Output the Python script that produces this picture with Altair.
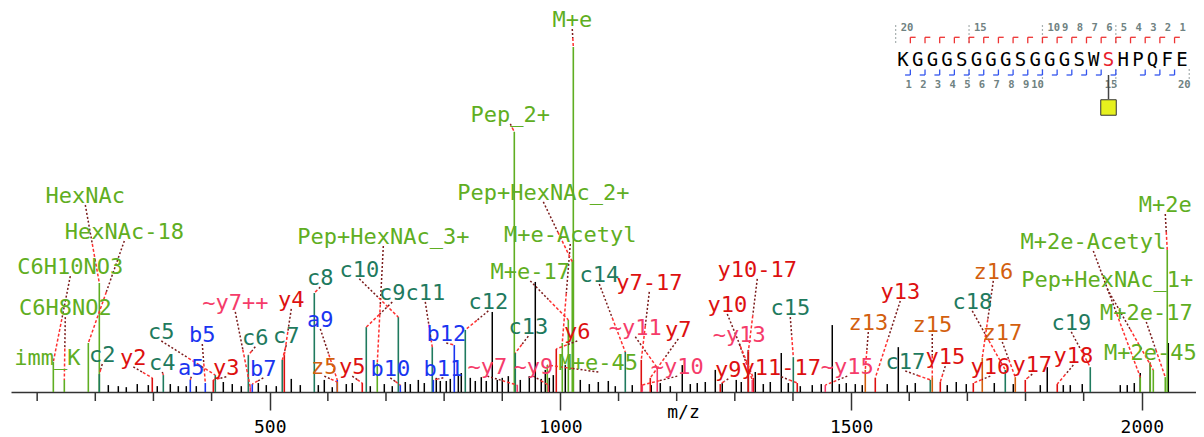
import altair as alt
import pandas as pd

# ---------------- spectrum: unannotated (black) peaks ----------------
peak_mz = [222.4, 239.6, 253.3, 272.2, 291.2, 306.6, 329.0, 342.8, 356.5, 373.7,
           420.2, 435.6, 451.1, 480.4, 494.1, 511.3, 537.1, 552.6, 583.6, 593.9,
           607.6, 631.7, 642.0, 673.0, 697.1, 710.8, 733.2, 741.8, 755.6, 765.9,
           786.5, 793.4, 803.7, 810.6, 824.4, 829.5, 845.0, 853.6, 863.9, 872.5,
           882.8, 891.4, 900.0, 910.4, 931.0, 946.5, 956.8, 967.1, 974.0, 980.9,
           987.8, 1008.4, 1022.2, 1034.2, 1049.7, 1065.2, 1082.4, 1094.4, 1123.6, 1156.3,
           1171.8, 1189.0, 1209.6, 1223.4, 1235.4, 1249.2, 1266.4, 1278.4, 1302.5, 1311.1,
           1323.2, 1335.2, 1349.0, 1361.0, 1379.9, 1392.0, 1412.6, 1433.2, 1448.7, 1467.6,
           1479.7, 1491.7, 1507.2, 1519.2, 1562.2, 1581.2, 1596.6, 1610.4, 1665.4, 1680.9,
           1698.1, 1746.3, 1779.0, 1825.4, 1837.4, 1865.0, 1877.0, 1897.6, 1963.0, 1975.0,
           1987.1, 1997.4, 2014.6, 2045.6]
peak_int = [2.0, 1.7, 1.4, 2.3, 2.0, 1.7, 2.3, 1.7, 1.7, 1.7,
            2.9, 2.3, 1.7, 2.6, 2.0, 1.7, 3.8, 2.0, 2.0, 3.5,
            1.4, 2.3, 2.6, 1.7, 2.3, 1.7, 2.9, 2.3, 3.5, 2.6,
            4.1, 3.2, 3.2, 3.8, 4.9, 5.5, 4.1, 3.2, 4.3, 3.2,
            23.2, 3.5, 4.1, 4.6, 3.5, 4.6, 31.9, 3.8, 6.4, 4.1,
            4.9, 7.8, 38.3, 3.5, 2.3, 2.9, 3.2, 1.7, 2.0, 2.0,
            2.6, 1.7, 7.8, 2.3, 2.6, 2.9, 6.4, 2.6, 3.5, 2.9,
            12.2, 5.8, 2.3, 2.9, 11.3, 2.6, 1.7, 2.0, 2.3, 19.4,
            2.3, 2.6, 2.3, 2.0, 2.3, 13.0, 2.0, 2.6, 2.0, 2.9,
            2.3, 2.6, 2.3, 2.0, 7.2, 2.0, 2.0, 2.3, 2.0, 2.0,
            2.6, 5.5, 8.4, 14.2]

# ---------------- annotated ions ----------------
ann_text = ["M+e", "Pep_2+", "HexNAc", "HexNAc-18", "C6H10NO3", "C6H8NO2", "imm_K",
            "Pep+HexNAc_3+", "Pep+HexNAc_2+", "M+e-Acetyl", "M+e-17", "M+e-45",
            "M+2e", "M+2e-Acetyl", "Pep+HexNAc_1+", "M+2e-17", "M+2e-45",
            "c2", "c4", "c5", "c6", "c7", "c8", "c9", "c10", "c11", "c12", "c13", "c14",
            "c15", "c17", "c18", "c19",
            "a5", "b5", "b7", "a9", "b10", "b11", "b12",
            "y2", "y3", "y4", "y5", "y6", "y7-17", "y7", "y9", "y10", "y10-17", "y11-17",
            "y13", "y15", "y16", "y17", "y18",
            "~y7++", "~y7", "~y9", "~y11", "~y10", "~y13", "~y15",
            "z5", "z13", "z15", "z16", "z17"]
ann_cls = (["pep"] * 17 + ["c"] * 16 + ["b"] * 7 + ["y"] * 16 + ["yt"] * 7 + ["z"] * 5)
ann_label_mz = [1020.4, 913.8, 182.8, 249.9, 157.0, 148.4, 117.4,
                695.4, 970.6, 1017.0, 948.2, 1065.2,
                2040.4, 1916.6, 1940.6, 2007.7, 2014.6,
                212.0, 315.2, 313.5, 475.2, 528.5, 587.0, 710.8, 654.1, 767.6, 876.0, 944.8, 1066.9,
                1395.4, 1593.2, 1708.4, 1878.7,
                365.1, 384.0, 489.0, 587.0, 707.4, 798.6, 803.7,
                265.4, 425.3, 537.1, 642.0, 1029.0, 1152.9, 1202.8, 1288.8, 1287.0, 1338.6, 1379.9,
                1584.6, 1662.0, 1739.4, 1811.6, 1882.2,
                440.8, 874.2, 953.4, 1128.8, 1201.0, 1307.7, 1493.4,
                593.9, 1529.6, 1639.6, 1744.6, 1760.0]
ann_label_int = [107.8, 80.3, 56.8, 46.4, 36.2, 24.3, 9.9,
                 44.9, 57.7, 45.5, 34.8, 8.4,
                 54.2, 43.5, 32.5, 22.9, 11.3,
                 10.7, 8.4, 17.4, 15.7, 16.2, 33.0, 28.7, 35.4, 28.7, 26.1, 18.8, 33.9,
                 24.3, 8.7, 26.1, 20.0,
                 7.0, 16.5, 6.7, 20.9, 6.7, 6.7, 16.8,
                 9.9, 7.0, 26.7, 7.2, 17.4, 31.6, 18.0, 6.4, 25.2, 35.4, 7.0,
                 29.0, 10.1, 7.2, 7.8, 10.4,
                 25.8, 7.2, 7.2, 18.6, 7.2, 16.5, 7.2,
                 7.2, 20.0, 19.4, 34.8, 17.1]
ann_peak_mz = [1022.2, 920.7, 206.9, 188.0, 127.8, 146.7, None,
               685.0, 1020.4, 1003.2, 1013.6, 977.4,
               2043.8, 1997.4, 2019.8, 2040.4, 2014.6,
               206.9, 317.0, 406.4, 463.2, 521.6, 576.7, 666.1, 721.2, 779.6, 836.4, 922.4, 1111.6,
               1400.6, 1636.2, 1765.2, 1911.4,
               363.4, 389.2, 470.0, 616.2, 724.6, 781.4, 817.5,
               298.0, 403.0, 525.1, 659.2, 992.9, 1139.1, 1154.6, 1275.0, 1331.8, 1323.2, 1407.4,
               1541.6, 1653.4, 1710.2, 1799.6, 1854.6,
               466.6, 925.8, 979.2, 1166.6, 1140.8, 1330.0, 1455.6,
               616.2, 1524.4, 1639.6, 1725.6, 1782.4]
ann_peak_int = [100.0, 75.4, 31.6, 14.2, 8.7, 3.5, None,
                8.4, 37.7, 14.2, 20.9, 7.8,
                41.2, 4.3, 6.4, 4.3, 8.4,
                5.2, 4.9, 4.9, 10.7, 9.3, 28.7, 18.8, 21.7, 13.0, 18.0, 11.3, 11.6,
                10.1, 3.5, 6.4, 7.2,
                3.5, 2.6, 2.3, 3.5, 2.0, 3.5, 13.6,
                4.1, 3.5, 10.7, 2.6, 12.5, 9.3, 4.1, 2.3, 4.1, 11.6, 2.6,
                4.1, 2.9, 2.6, 3.5, 2.3,
                1.4, 2.0, 2.0, 7.0, 2.0, 3.5, 2.0,
                2.9, 6.4, 4.3, 9.9, 4.3]

cls_domain = ["pep", "c", "b", "y", "yt", "z"]
cls_colors = ["#5fae22", "#1f7a5e", "#1a35f0", "#dd1010", "#f53c6a", "#d35f0e"]

# axis ticks
major_ticks = [500, 1000, 1500, 2000]
minor_ticks = [100, 200, 300, 400, 600, 700, 800, 900, 1100, 1200, 1300, 1400,
               1600, 1700, 1800, 1900, 2100]

# ---------------- peptide sequence ----------------
residues = list("KGGGSGGGSGGGSWSHPQFE")
mod_site = 14
y_bounds = list(range(1, 20))
c_bounds = list(range(1, 16)) + [17, 18, 19]
top_num_bounds = [0, 5, 10, 11, 12, 13, 14, 15, 16, 17, 18, 19]
bottom_num_bounds = [1, 2, 3, 4, 5, 6, 7, 8, 9, 10, 15, 20]

FONT = "DejaVu Sans Mono"
PLOT_W = 1193   # pixel extent of the m/z scale
VIEW_W = 1185   # visible part (page is 1204 wide with 8px margins)

# ---------------- tables ----------------
peaks = pd.DataFrame({"mz": peak_mz, "int": peak_int})
ann = pd.DataFrame({"text": ann_text, "cls": ann_cls, "lmz": ann_label_mz,
                    "lint": ann_label_int, "pmz": ann_peak_mz, "pint": ann_peak_int})
annp = ann.dropna(subset=["pmz"]).copy()
annp["sint"] = annp["lint"] - 2.6
annp["mmz"] = (annp["lmz"] + annp["pmz"]) / 2
annp["mint"] = (annp["sint"] + annp["pint"]) / 2
minor_df = pd.DataFrame({"mz": minor_ticks})


def xs():
    return alt.Scale(domain=[55, 2107], range=[0, PLOT_W], nice=False, zero=False)


def ys():
    return alt.Scale(domain=[0, 111.3], nice=False, zero=True)


def cs():
    return alt.Scale(domain=cls_domain, range=cls_colors)


xaxis = alt.Axis(values=major_ticks, format="d", tickSize=18,
                 grid=False, domainColor="#333333", tickColor="#333333",
                 domainWidth=1.5, tickWidth=1.5,
                 labelFont=FONT, labelFontSize=18, labelColor="black", labelPadding=8,
                 labelFlush=False, labelOverlap=False, orient="bottom",
                 title="m/z", titleFont=FONT, titleFontSize=18, titleFontWeight="normal",
                 titleColor="black",
                 titleX=672, titleY=20, titleBaseline="middle", titleAlign="center")

black = alt.Chart(peaks).mark_rule(color="black", strokeWidth=1.5).encode(
    x=alt.X("mz:Q", scale=xs(), axis=xaxis),
    y=alt.Y("int:Q", scale=ys(), axis=None),
    y2=alt.datum(0))

minor = alt.Chart(minor_df).mark_rule(color="#333333", strokeWidth=1.5).encode(
    x=alt.X("mz:Q", scale=xs(), axis=None),
    y=alt.value(384), y2=alt.value(393))

colored = alt.Chart(annp).mark_rule(strokeWidth=1.6).encode(
    x=alt.X("pmz:Q", scale=xs(), axis=None),
    y=alt.Y("pint:Q", scale=ys(), axis=None),
    y2=alt.datum(0),
    color=alt.Color("cls:N", scale=cs(), legend=None))

lead1 = alt.Chart(annp).mark_rule(color="#7a1c1c", strokeWidth=1.5, strokeDash=[2, 2]).encode(
    x=alt.X("lmz:Q", scale=xs(), axis=None), y=alt.Y("sint:Q", scale=ys(), axis=None),
    x2="mmz:Q", y2="mint:Q")
lead2 = alt.Chart(annp).mark_rule(color="#ff3030", strokeWidth=1.5, strokeDash=[3, 2]).encode(
    x=alt.X("mmz:Q", scale=xs(), axis=None), y=alt.Y("mint:Q", scale=ys(), axis=None),
    x2="pmz:Q", y2="pint:Q")

labels = alt.Chart(ann).mark_text(font=FONT, fontSize=22, align="center", baseline="middle").encode(
    x=alt.X("lmz:Q", scale=xs(), axis=None),
    y=alt.Y("lint:Q", scale=ys(), axis=None),
    text="text:N",
    color=alt.Color("cls:N", scale=cs(), legend=None))

# ---- sequence graphic (own scales: x = residue index, y = pixel row in the plot) ----
def sx():
    return alt.Scale(domain=[0, 19], range=[892, 1170.9], nice=False, zero=False)


def sy():
    return alt.Scale(domain=[0, 384], range=[0, 384], nice=False, zero=False)


res_df = pd.DataFrame({"pos": list(range(len(residues))), "aa": residues,
                       "mod": [i == mod_site for i in range(len(residues))]})
res_df["row"] = 52
res_layer = alt.Chart(res_df).mark_text(font=FONT, fontSize=19, baseline="middle").encode(
    x=alt.X("pos:Q", scale=sx(), axis=None), y=alt.Y("row:Q", scale=sy(), axis=None),
    text="aa:N",
    color=alt.condition("datum.mod", alt.value("#e8202a"), alt.value("black")))

ydf = pd.DataFrame({"b": y_bounds})
ydf["x"] = ydf["b"] - 0.5
ydf["xr"] = ydf["x"] + 0.36
ydf["r1"] = 29.3
ydf["r2"] = 35.3
yv = alt.Chart(ydf).mark_rule(color="#ee3333", strokeWidth=1.3).encode(
    x=alt.X("x:Q", scale=sx(), axis=None), y=alt.Y("r1:Q", scale=sy(), axis=None), y2="r2:Q")
yh = alt.Chart(ydf).mark_rule(color="#ee3333", strokeWidth=1.3).encode(
    x=alt.X("x:Q", scale=sx(), axis=None), x2="xr:Q", y=alt.Y("r1:Q", scale=sy(), axis=None))

cdf = pd.DataFrame({"b": c_bounds})
cdf["x"] = cdf["b"] - 0.5
cdf["xl"] = cdf["x"] - 0.36
cdf["r1"] = 61.5
cdf["r2"] = 67.0
cv = alt.Chart(cdf).mark_rule(color="#3355ee", strokeWidth=1.3).encode(
    x=alt.X("x:Q", scale=sx(), axis=None), y=alt.Y("r1:Q", scale=sy(), axis=None), y2="r2:Q")
ch = alt.Chart(cdf).mark_rule(color="#3355ee", strokeWidth=1.3).encode(
    x=alt.X("xl:Q", scale=sx(), axis=None), x2="x:Q", y=alt.Y("r2:Q", scale=sy(), axis=None))

gdf = pd.DataFrame({"b": [0, 5, 10, 15, 5, 10, 15, 20],
                    "r1": [17, 17, 17, 17, 61, 61, 61, 61],
                    "r2": [35, 35, 35, 35, 81, 81, 81, 71]})
gdf["x"] = gdf["b"] - 0.5
gray = alt.Chart(gdf).mark_rule(color="#a8b0b0", strokeWidth=1.2, strokeDash=[2, 2]).encode(
    x=alt.X("x:Q", scale=sx(), axis=None), y=alt.Y("r1:Q", scale=sy(), axis=None), y2="r2:Q")

tdf = pd.DataFrame({"b": top_num_bounds})
tdf["x"] = tdf["b"] - 0.5 + 0.34
tdf["t"] = (20 - tdf["b"]).astype(str)
tdf["row"] = 20.3
tnum = alt.Chart(tdf).mark_text(font=FONT, fontSize=10.5, fontWeight="bold", color="#6f8282",
                                align="left", baseline="middle").encode(
    x=alt.X("x:Q", scale=sx(), axis=None), y=alt.Y("row:Q", scale=sy(), axis=None), text="t:N")

bdf = pd.DataFrame({"b": bottom_num_bounds})
bdf["x"] = bdf["b"] - 0.5 + 0.1
bdf["t"] = bdf["b"].astype(str)
bdf["row"] = 77
bnum = alt.Chart(bdf).mark_text(font=FONT, fontSize=10.5, fontWeight="bold", color="#6f8282",
                                align="right", baseline="middle").encode(
    x=alt.X("x:Q", scale=sx(), axis=None), y=alt.Y("row:Q", scale=sy(), axis=None), text="t:N")

mdf = pd.DataFrame({"x": [mod_site], "r1": [67], "r2": [91], "rs": [99.5]})
stem = alt.Chart(mdf).mark_rule(color="#444444", strokeWidth=1.5).encode(
    x=alt.X("x:Q", scale=sx(), axis=None), y=alt.Y("r1:Q", scale=sy(), axis=None), y2="r2:Q")
box = alt.Chart(mdf).mark_square(size=240, fill="#e6f01e", stroke="#333333",
                                 strokeWidth=1, opacity=1).encode(
    x=alt.X("x:Q", scale=sx(), axis=None), y=alt.Y("rs:Q", scale=sy(), axis=None))

chart = alt.layer(black, minor, colored, lead1, lead2, labels,
                  gray, yv, yh, cv, ch, res_layer, tnum, bnum, stem, box).resolve_scale(
    x="independent", y="independent", color="independent"
).properties(
    width=VIEW_W, height=384,
    autosize=alt.AutoSizeParams(type="none"),
    padding={"left": 3, "top": 0, "right": 0, "bottom": 45},
).configure_view(stroke=None)

chart.save("out.html", embed_options={"renderer": "svg", "actions": False})
